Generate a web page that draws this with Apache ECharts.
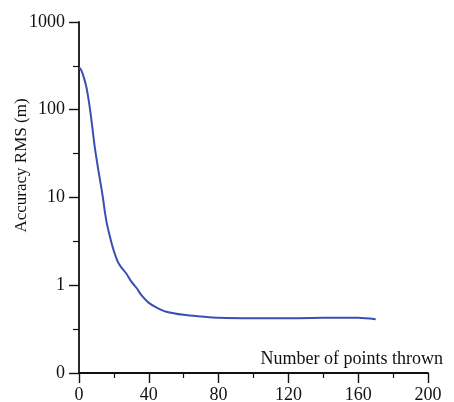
<!DOCTYPE html>
<html>
<head>
<meta charset="utf-8">
<script src="https://cdn.jsdelivr.net/npm/echarts@6/dist/echarts.min.js"></script>
<style>
  html, body { margin: 0; padding: 0; background: #fff; }
  #chart { width: 454px; height: 402px; }
</style>
</head>
<body>
<div id="chart"></div>
<script>
  // points thrown vs accuracy
  var pointsThrown = [0, 1, 2, 3, 4, 5, 6, 7, 8, 9, 10, 11, 12, 13, 14, 15, 16, 17, 18, 19, 20, 22, 24, 27, 30, 33, 36, 40, 45, 50, 60, 70, 80, 100, 120, 140, 150, 160, 170];
  var accuracyRms = [300, 290, 260, 225, 190, 150, 112, 80, 55, 38, 28, 21, 16, 12.2, 9, 6.5, 5.0, 4.1, 3.4, 2.85, 2.45, 1.9, 1.62, 1.37, 1.1, 0.93, 0.76, 0.63, 0.55, 0.5, 0.46, 0.44, 0.425, 0.42, 0.42, 0.425, 0.427, 0.425, 0.41];
  var xTicks = [0, 40, 80, 120, 160, 200];
  var yTicks = [0.1, 1, 10, 100, 1000];
  var yMinorTicks = [0.316, 3.16, 31.6, 316];

  var seriesData = [];
  for (var i = 0; i < pointsThrown.length; i++) {
    seriesData.push([pointsThrown[i], accuracyRms[i]]);
  }

  var font = '"Liberation Serif", "DejaVu Serif", serif';
  var ink = '#111';
  var myChart = echarts.init(document.getElementById('chart'));
  var option = {
    backgroundColor: '#fff',
    animation: false,
    grid: {
      left: 79,
      right: 26,
      top: 22,
      bottom: 29,
      containLabel: false,
      outerBoundsMode: 'none'
    },
    xAxis: {
      type: 'value',
      min: xTicks[0],
      max: xTicks[xTicks.length - 1],
      interval: 40,
      name: 'Number of points thrown',
      nameLocation: 'end',
      nameGap: 15,
      nameMoveOverlap: false,
      nameTextStyle: {
        fontFamily: font,
        fontSize: 18,
        color: ink,
        align: 'right',
        verticalAlign: 'bottom',
        padding: [0, 0, 5, 0]
      },
      splitLine: { show: false },
      axisLine: { lineStyle: { color: ink, width: 1.8 } },
      axisTick: { length: 10, lineStyle: { color: ink, width: 1.4 } },
      minorTick: { show: true, splitNumber: 2, length: 5, lineStyle: { color: ink, width: 1.2 } },
      axisLabel: {
        margin: 13,
        fontFamily: font,
        fontSize: 18,
        color: ink
      }
    },
    yAxis: [{
      type: 'log',
      logBase: 10,
      min: yTicks[0],
      max: yTicks[yTicks.length - 1],
      name: 'Accuracy RMS (m)',
      nameLocation: 'middle',
      nameGap: 49,
      nameMoveOverlap: false,
      nameTextStyle: {
        fontFamily: font,
        fontSize: 17,
        color: ink,
        padding: [0, 0, 0, 64]
      },
      splitLine: { show: false },
      axisLine: { show: true, lineStyle: { color: ink, width: 1.8 } },
      axisTick: { show: true, length: 10, lineStyle: { color: ink, width: 1.4 } },
      minorTick: { show: false },
      axisLabel: {
        margin: 14,
        fontFamily: font,
        fontSize: 18,
        color: ink,
        formatter: function (v) {
          return v < 1 ? '0' : String(Math.round(v));
        }
      }
    }, {
      // half-decade minor ticks only
      type: 'log',
      logBase: 10,
      position: 'left',
      min: yTicks[0],
      max: yTicks[yTicks.length - 1],
      splitLine: { show: false },
      axisLine: { show: false },
      axisLabel: { show: false },
      axisTick: {
        show: true,
        length: 6,
        customValues: yMinorTicks,
        lineStyle: { color: ink, width: 1.2 }
      }
    }],
    series: [{
      type: 'line',
      data: seriesData,
      smooth: 0.3,
      showSymbol: false,
      lineStyle: { color: '#3a4fb4', width: 2 }
    }]
  };
  myChart.setOption(option);
</script>
</body>
</html>
